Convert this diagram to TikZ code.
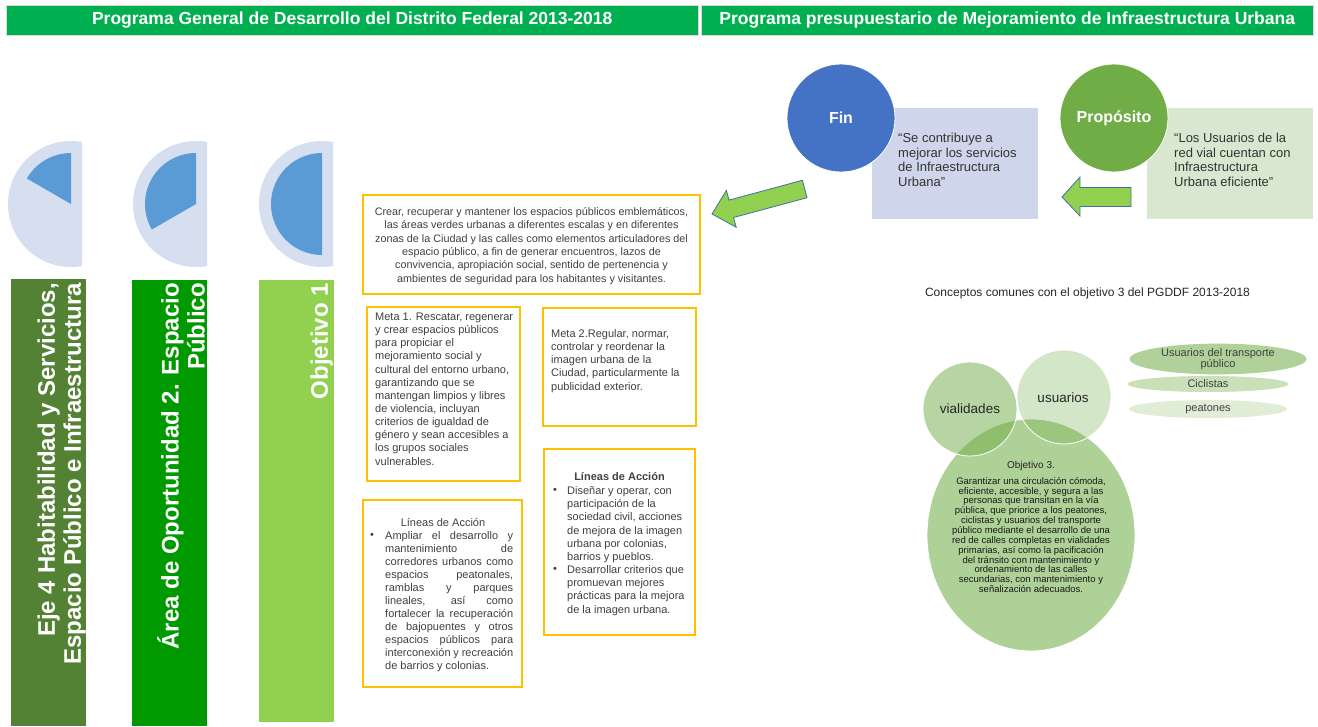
\documentclass[tikz,border=0pt]{standalone}
\usepackage{fontspec}
\setmainfont{Liberation Sans}
\usetikzlibrary{shapes.geometric}
\definecolor{hdrgreen}{HTML}{00B050}
\definecolor{pielight}{HTML}{D6DFEF}
\definecolor{piedark}{HTML}{5B9BD5}
\definecolor{barone}{HTML}{548235}
\definecolor{bartwo}{HTML}{009A00}
\definecolor{barthree}{HTML}{92D050}
\definecolor{boxgold}{HTML}{FFC000}
\definecolor{txtgray}{HTML}{404040}
\definecolor{finblue}{HTML}{4472C4}
\definecolor{propgreen}{HTML}{70AD47}
\definecolor{lavender}{HTML}{CFD5EA}
\definecolor{palegreen}{HTML}{D8E8D0}
\definecolor{arrowfill}{HTML}{92D050}
\definecolor{arrowline}{HTML}{41719C}
\definecolor{venngreen}{HTML}{70AD47}
\newcommand{\justline}[1]{\makebox[128pt][s]{#1}}
\tikzset{
  hdrbox/.style={fill=hdrgreen, draw=black!15, line width=0.5pt, text=white, font=\bfseries\fontsize{17.5}{20}\selectfont, minimum height=30pt, inner sep=0pt, anchor=north west},
  goldbox/.style={draw=boxgold, line width=1.3pt, fill=white},
  boxtext/.style={text=txtgray, font=\fontsize{11}{13.15}\selectfont, inner sep=0pt},
  bartext/.style={text=white, font=\bfseries\fontsize{24}{26}\selectfont, align=right, rotate=90, anchor=south east, inner sep=1pt},
  fatarrow/.style={fill=arrowfill, draw=arrowline, line width=0.8pt, line join=miter},
  quotetext/.style={text=txtgray!80!black, font=\fontsize{13}{14.5}\selectfont, align=left, inner sep=0pt, anchor=north west},
  pillell/.style={ellipse, inner sep=0pt, text=txtgray, font=\fontsize{11}{11.5}\selectfont, align=center}
}
\begin{document}
\begin{tikzpicture}[x=1pt,y=-1pt]
\useasboundingbox (0,0) rectangle (1318,726);
\fill[white] (0,0) rectangle (1318,726);

% headers
\node[hdrbox, minimum width=692pt] (h1) at (6,5) {Programa General de Desarrollo del Distrito Federal 2013-2018};
\node[hdrbox, minimum width=612pt] (h2) at (701,5) {Programa presupuestario de Mejoramiento de Infraestructura Urbana};

% pies
\begin{scope}
\clip (0,130) rectangle (82,275);
\fill[pielight] (71,204) circle (63pt);
\end{scope}
\fill[piedark] (71,204) -- (71,153) arc[start angle=-90, end angle=-150, radius=51] -- cycle;
\begin{scope}
\clip (120,130) rectangle (207,275);
\fill[pielight] (196,204) circle (63pt);
\end{scope}
\fill[piedark] (196,204) -- (196,153) arc[start angle=-90, end angle=-210, radius=51] -- cycle;
\begin{scope}
\clip (250,130) rectangle (333,275);
\fill[pielight] (322,204) circle (63pt);
\end{scope}
\fill[piedark] (322,204) -- (322,153) arc[start angle=-90, end angle=-270, radius=51] -- cycle;

% bars
\fill[barone] (11,279) rectangle (86,726);
\fill[bartwo] (132,280) rectangle (207,726);
\fill[barthree] (259,280) rectangle (334,722);
\node[bartext] (b1) at (87,282) {Eje 4 Habitabilidad y Servicios,\\Espacio Público e Infraestructura};
\node[bartext] (b2) at (206,282) {Área de Oportunidad 2. Espacio\\Público};
\node[bartext] (b3) at (334,282) {Objetivo 1};

% objective box
\draw[goldbox] (363,195) rectangle (700,294);
\node[boxtext, align=center, font=\fontsize{10.8}{13.4}\selectfont] (obj) at (531.5,246) {Crear, recuperar y mantener los espacios públicos emblemáticos,\\las áreas verdes urbanas a diferentes escalas y en diferentes\\zonas de la Ciudad y las calles como elementos articuladores del\\espacio público, a fin de generar encuentros, lazos de\\convivencia, apropiación social, sentido de pertenencia y\\ambientes de seguridad para los habitantes y visitantes.};

% meta 1
\draw[goldbox] (367,307) rectangle (520,481);
\node[boxtext, align=left, anchor=west] (m1) at (375,389) {Meta 1. Rescatar, regenerar\\y crear espacios públicos\\para propiciar el\\mejoramiento social y\\cultural del entorno urbano,\\garantizando que se\\mantengan limpios y libres\\de violencia, incluyan\\criterios de igualdad de\\género y sean accesibles a\\los grupos sociales\\vulnerables.};

% meta 2
\draw[goldbox] (543,308) rectangle (696,426);
\node[boxtext, align=left, anchor=west] (m2) at (551,361) {Meta 2.Regular, normar,\\controlar y reordenar la\\imagen urbana de la\\Ciudad, particularmente la\\publicidad exterior.};

% lineas right
\draw[goldbox] (544,449) rectangle (695,635);
\node[boxtext, font=\bfseries\fontsize{11}{13}\selectfont] (lrt) at (619.5,477) {Líneas de Acción};
\node[boxtext, align=left, anchor=west] (lrx) at (567,551) {Diseñar y operar, con\\participación de la\\sociedad civil, acciones\\de mejora de la imagen\\urbana por colonias,\\barrios y pueblos.\\Desarrollar criterios que\\promuevan mejores\\prácticas para la mejora\\de la imagen urbana.};
\node[boxtext] (lrb1) at (555,491) {•};
\node[boxtext] (lrb2) at (555,570) {•};

% lineas left
\draw[goldbox] (363,500) rectangle (522,687);
\node[boxtext] (llt) at (443,522) {Líneas de Acción};
\node[boxtext, align=left, anchor=west, font=\fontsize{11}{13}\selectfont] (llx) at (385,602) {\justline{Ampliar el desarrollo y}\\\justline{mantenimiento de}\\\justline{corredores urbanos como}\\\justline{espacios peatonales,}\\\justline{ramblas y parques}\\\justline{lineales, así como}\\\justline{fortalecer la recuperación}\\\justline{de bajopuentes y otros}\\\justline{espacios públicos para}\\\justline{interconexión y recreación}\\de barrios y colonias.};
\node[boxtext] (llb) at (372,536) {•};

% Fin / Proposito
\node[fill=lavender, minimum width=166pt, minimum height=111pt, inner sep=0pt, anchor=north west] (finrect) at (872,108) {};
\node[circle, fill=finblue, draw=white, line width=0.8pt, minimum size=108pt, text=white, font=\bfseries\fontsize{16}{18}\selectfont] (fin) at (841,118) {Fin};
\node[quotetext] (finq) at (898,133) {“Se contribuye a\\mejorar los servicios\\de Infraestructura\\Urbana”};

\node[fill=palegreen, minimum width=166pt, minimum height=111pt, inner sep=0pt, anchor=north west] (proprect) at (1147,108) {};
\node[circle, fill=propgreen, draw=white, line width=0.8pt, minimum size=108pt, text=white, font=\bfseries\fontsize{16}{18}\selectfont] (prop) at (1114,118) {Propósito};
\node[quotetext] (propq) at (1174,133) {“Los Usuarios de la\\red vial cuentan con\\Infraestructura\\Urbana eficiente”};

% fat arrows
\draw[fatarrow] (712,214) -- (726.4,190.4) -- (729.0,200.1) -- (802.4,180.3) -- (807.0,197.7) -- (733.6,217.5) -- (736.2,227.2) -- cycle;
\draw[fatarrow] (1062,197) -- (1080,177) -- (1080,187.5) -- (1131,187.5) -- (1131,206.5) -- (1080,206.5) -- (1080,216) -- cycle;

% conceptos
\node[text=black!85, font=\fontsize{12}{14}\selectfont, inner sep=0pt] (conc) at (1087.5,293) {Conceptos comunes con el objetivo 3 del PGDDF 2013-2018};

% venn
\node[ellipse, fill=venngreen, fill opacity=0.56, draw=white, line width=0.8pt, minimum width=208pt, minimum height=232pt, inner sep=0pt] (obj3) at (1031,535) {};
\node[circle, fill=venngreen, fill opacity=0.5, draw=white, line width=0.8pt, minimum size=94pt, text opacity=1, text=black!85, font=\fontsize{13.5}{15}\selectfont] (vial) at (970,409) {vialidades};
\node[circle, fill=venngreen, fill opacity=0.3, draw=white, line width=0.8pt, minimum size=94pt, text opacity=1, text=black!85, font=\fontsize{13.5}{15}\selectfont] (usu) at (1064,397) {};
\node[text=black!85, font=\fontsize{13.5}{15}\selectfont, inner sep=0pt] (usut) at (1063,398) {usuarios};
\node[text=black!85, font=\fontsize{10}{12}\selectfont, inner sep=0pt] (o3t) at (1031,466) {Objetivo 3.};
\node[text=black!90, align=center, font=\fontsize{9.5}{9.85}\selectfont, inner sep=0pt] (o3x) at (1031,535) {Garantizar una circulación cómoda,\\eficiente, accesible, y segura a las\\personas que transitan en la vía\\pública, que priorice a los peatones,\\ciclistas y usuarios del transporte\\público mediante el desarrollo de una\\red de calles completas en vialidades\\primarias, así como la pacificación\\del tránsito con mantenimiento y\\ordenamiento de las calles\\secundarias, con mantenimiento y\\señalización adecuados.};

% pills
\node[pillell, fill=venngreen!55, minimum width=177pt, minimum height=23pt] (p1) at (1218,359) {Usuarios del transporte\\público};
\node[pillell, fill=venngreen!38, minimum width=161pt, minimum height=16pt] (p2) at (1208,384) {Ciclistas};
\node[pillell, fill=venngreen!22, minimum width=158pt, minimum height=18pt] (p3) at (1208,409) {peatones};
\end{tikzpicture}
\end{document}
